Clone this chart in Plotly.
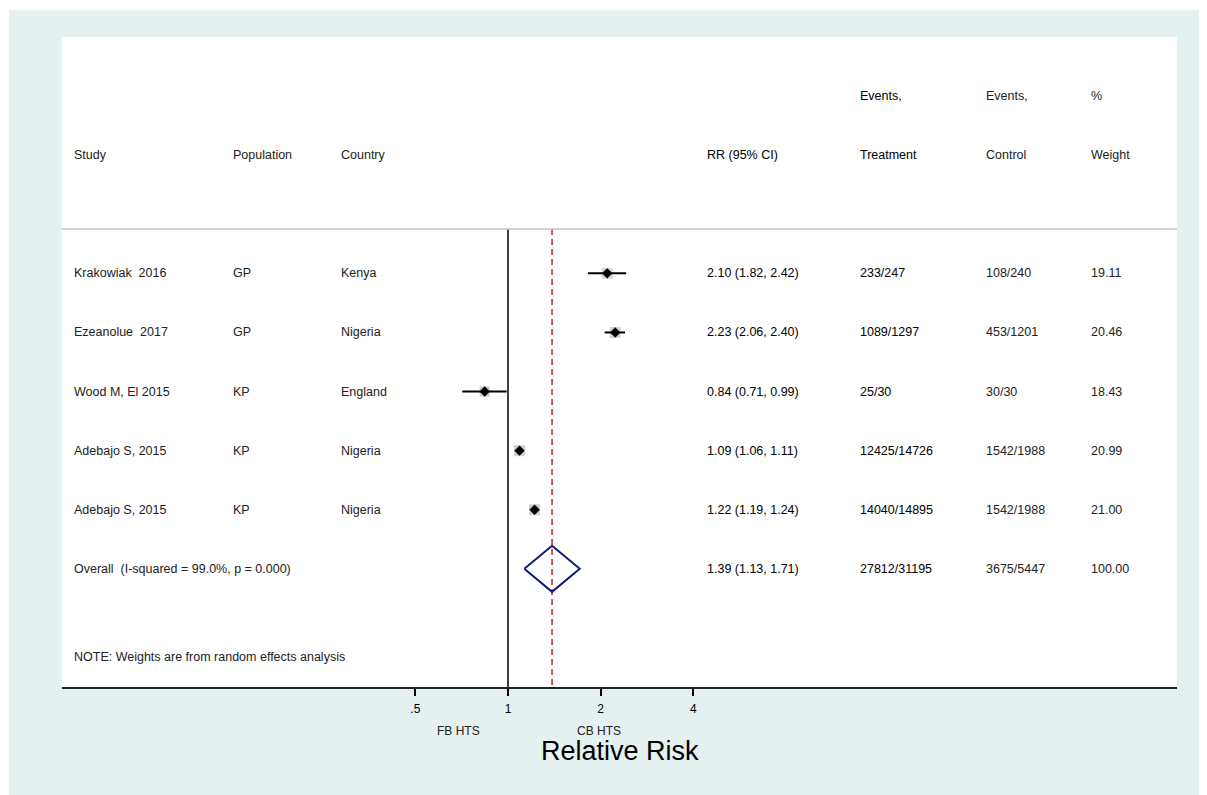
import math
import plotly.graph_objects as go

# ---------------- data ----------------
studies = ["Krakowiak  2016", "Ezeanolue  2017", "Wood M, El 2015", "Adebajo S, 2015", "Adebajo S, 2015"]
population = ["GP", "GP", "KP", "KP", "KP"]
country = ["Kenya", "Nigeria", "England", "Nigeria", "Nigeria"]
rr = [2.10, 2.23, 0.84, 1.09, 1.22]
ci_low = [1.82, 2.06, 0.71, 1.06, 1.19]
ci_high = [2.42, 2.40, 0.99, 1.11, 1.24]
events_treat = ["233/247", "1089/1297", "25/30", "12425/14726", "14040/14895"]
events_ctrl = ["108/240", "453/1201", "30/30", "1542/1988", "1542/1988"]
weights = [19.11, 20.46, 18.43, 20.99, 21.00]

overall_label = "Overall  (I-squared = 99.0%, p = 0.000)"
overall_rr = 1.39
overall_low = 1.13
overall_high = 1.71
overall_treat = "27812/31195"
overall_ctrl = "3675/5447"
overall_weight = 100.00

note_text = "NOTE: Weights are from random effects analysis"
x_tickvals = [0.5, 1, 2, 4]
x_ticktext = [".5", "1", "2", "4"]
x_title = "Relative Risk"
left_label = "FB HTS"
right_label = "CB HTS"

# ---------------- layout helpers (screen pixel coordinates) ----------------
SCREEN_W, SCREEN_H = 1207, 795
OFF = 8                      # page body margin
W, H = SCREEN_W, SCREEN_H    # figure slightly overflows the window, like the reference
L, R, T, B = 62, 1177, 37, 687
FONT = "Liberation Sans, Arial, Helvetica, sans-serif"
TEAL = "#e5f0f0"


def px(xs):
    return (xs - L) / (R - L)


def py(ys):
    return (B - ys) / (B - T)


rows = list(range(1, len(studies) + 1))
overall_row = len(studies) + 1
note_row = overall_row + 1.5
sep_row = 0.25

fig = go.Figure()

# reference lines
fig.add_trace(go.Scatter(x=[1, 1], y=[sep_row, 8], mode="lines",
                         line=dict(color="black", width=1.5), hoverinfo="skip", showlegend=False))
fig.add_trace(go.Scatter(x=[overall_rr, overall_rr], y=[sep_row, 8], mode="lines",
                         line=dict(color="#c8202a", width=1.5, dash="6px,4px"),
                         hoverinfo="skip", showlegend=False))

# weight boxes
box_sizes = [11 * math.sqrt(w / max(weights)) for w in weights]
fig.add_trace(go.Scatter(x=rr, y=rows, mode="markers",
                         marker=dict(symbol="square", size=box_sizes, color="#bdbdbd", line=dict(width=0)),
                         hoverinfo="skip", showlegend=False))

# CI lines
cx, cy = [], []
for lo, hi, r in zip(ci_low, ci_high, rows):
    cx += [lo, hi, None]
    cy += [r, r, None]
fig.add_trace(go.Scatter(x=cx, y=cy, mode="lines", line=dict(color="black", width=2),
                         hoverinfo="skip", showlegend=False))

# point estimates
fig.add_trace(go.Scatter(x=rr, y=rows, mode="markers",
                         marker=dict(symbol="diamond", size=8, color="black", line=dict(width=0)),
                         hoverinfo="skip", showlegend=False))

# overall diamond
dh = 0.39
fig.add_trace(go.Scatter(x=[overall_low, overall_rr, overall_high, overall_rr, overall_low],
                         y=[overall_row, overall_row - dh, overall_row, overall_row + dh, overall_row],
                         mode="lines", line=dict(color="#141a78", width=2),
                         hoverinfo="skip", showlegend=False))

# ---------------- text columns ----------------
ann = []
FS = 12.5


def txt(xs, row, s, color="black", size=FS):
    ann.append(dict(x=px(xs) - 1.5 / (R - L), xref="paper", y=row, yref="y", text=s,
                    showarrow=False, xanchor="left", yanchor="middle",
                    font=dict(family=FONT, size=size, color=color)))


col_study, col_pop, col_cty, col_rr, col_tr, col_ct, col_w = 73, 232, 340, 706, 859, 985, 1090

# header
txt(col_tr, -2, "Events,")
txt(col_ct, -2, "Events,", color="#222")
txt(col_w, -2, "%", color="#222")
txt(col_study, -1, "Study", color="#222")
txt(col_pop, -1, "Population", color="#222")
txt(col_cty, -1, "Country", color="#222")
txt(col_rr, -1, "RR (95% CI)")
txt(col_tr, -1, "Treatment")
txt(col_ct, -1, "Control", color="#222")
txt(col_w, -1, "Weight", color="#222")

for i, r in enumerate(rows):
    txt(col_study, r, studies[i], color="#222")
    txt(col_pop, r, population[i], color="#222")
    txt(col_cty, r, country[i], color="#222")
    txt(col_rr, r, f"{rr[i]:.2f} ({ci_low[i]:.2f}, {ci_high[i]:.2f})")
    txt(col_tr, r, events_treat[i])
    txt(col_ct, r, events_ctrl[i], color="#222")
    txt(col_w, r, f"{weights[i]:.2f}", color="#222")

txt(col_study, overall_row, overall_label, color="#222")
txt(col_rr, overall_row, f"{overall_rr:.2f} ({overall_low:.2f}, {overall_high:.2f})")
txt(col_tr, overall_row, overall_treat)
txt(col_ct, overall_row, overall_ctrl, color="#222")
txt(col_w, overall_row, f"{overall_weight:.2f}", color="#222")
txt(col_study, note_row, note_text, color="#222")

# bottom labels
ann.append(dict(x=px(458), xref="paper", y=py(731), yref="paper", text=left_label, showarrow=False,
                xanchor="center", yanchor="middle", font=dict(family=FONT, size=12, color="#222")))
ann.append(dict(x=px(599), xref="paper", y=py(731), yref="paper", text=right_label, showarrow=False,
                xanchor="center", yanchor="middle", font=dict(family=FONT, size=12, color="#222")))
ann.append(dict(x=0.5, xref="paper", y=py(751), yref="paper", text=x_title, showarrow=False,
                xanchor="center", yanchor="middle", font=dict(family=FONT, size=27, color="black")))

shapes = [
    # separator line under header
    dict(type="line", xref="paper", yref="y", x0=0, x1=1, y0=sep_row, y1=sep_row,
         line=dict(color="#c4c4c4", width=1.5)),
    # thin white outer edge (left / top)
    dict(type="rect", xref="paper", yref="paper", x0=px(OFF), x1=px(9), y0=py(OFF + H), y1=py(OFF),
         fillcolor="white", line=dict(width=0), layer="below"),
    dict(type="rect", xref="paper", yref="paper", x0=px(OFF), x1=px(OFF + W), y0=py(10), y1=py(OFF),
         fillcolor="white", line=dict(width=0), layer="below"),
]

# log axis range in log10 units: pixel per doubling ~92.67, x=1 at screen 508
ppd = 92.67 / math.log10(2)
x_left = (L - 508) / ppd
x_right = (R - 508) / ppd

fig.update_layout(
    width=W, height=H,
    margin=dict(l=L - OFF, r=OFF + W - R, t=T - OFF, b=OFF + H - B, pad=0),
    paper_bgcolor=TEAL, plot_bgcolor="white",
    showlegend=False,
    annotations=ann, shapes=shapes,
    xaxis=dict(type="log", range=[x_left, x_right], tickvals=x_tickvals, ticktext=x_ticktext,
               ticks="outside", ticklen=7, tickwidth=1.5, tickcolor="black", ticklabelstandoff=3,
               showline=True, linecolor="#222", linewidth=2, showgrid=False, zeroline=False,
               tickfont=dict(family=FONT, size=12, color="black"), fixedrange=True),
    yaxis=dict(range=[8, -3], visible=False, showgrid=False, zeroline=False, fixedrange=True),
)

fig.write_html("out.html")
